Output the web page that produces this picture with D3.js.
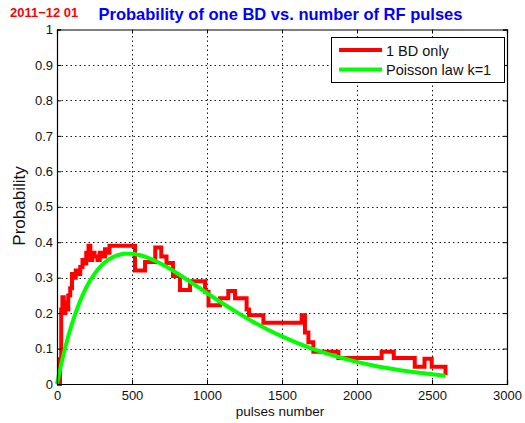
<!DOCTYPE html>
<html>
<head>
<meta charset="utf-8">
<script src="https://cdn.jsdelivr.net/npm/d3@7/dist/d3.min.js"></script>
<style>
  html, body { margin: 0; padding: 0; background: #fff; }
  svg { display: block; font-family: "Liberation Sans", Arial, sans-serif; }
</style>
</head>
<body>
<svg id="chart" width="525" height="423"></svg>
<script>
// Measured breakdown probability: step levels (pulse count where the level starts, probability)
const bdPulses = [0, 20, 28, 36, 45, 55, 65, 75, 88, 100, 115, 125, 140, 155, 170, 185, 195, 210, 222, 235, 250, 270, 285, 300, 320, 335, 350,
  520, 587, 655, 695, 730, 773, 820, 887, 987, 1010, 1087, 1142, 1187, 1264, 1280, 1376, 1631, 1653, 1676, 1709, 1876,
  2164, 2245, 2385, 2450, 2498, 2590];
const bdProb = [0, 0.07, 0.21, 0.245, 0.2, 0.23, 0.21, 0.25, 0.27, 0.31, 0.3, 0.32, 0.31, 0.33, 0.35, 0.34, 0.37, 0.39, 0.35, 0.37, 0.36, 0.35, 0.37, 0.36, 0.38, 0.37, 0.39,
  0.32, 0.344, 0.385, 0.36, 0.341, 0.305, 0.265, 0.29, 0.26, 0.222, 0.242, 0.262, 0.242, 0.21, 0.194, 0.173, 0.194, 0.145, 0.118, 0.091, 0.073,
  0.091, 0.073, 0.049, 0.071, 0.049, 0.025];

// Poisson law k=1 curve
const poissonPulses = [0, 10, 25, 50, 75, 100, 150, 200, 250, 300, 350, 400, 450, 500, 550, 600, 700, 800, 900, 1000,
  1100, 1200, 1300, 1400, 1500, 1600, 1700, 1800, 1900, 2000, 2100, 2200, 2300, 2400, 2500, 2590];
const poissonProb = [0, 0.0206, 0.0499, 0.0947, 0.1348, 0.1705, 0.2302, 0.2764, 0.3109, 0.3359, 0.3527, 0.3628, 0.3673, 0.3674, 0.3637, 0.3572,
  0.3376, 0.3126, 0.2848, 0.2564, 0.2285, 0.2021, 0.1773, 0.1547, 0.1343, 0.1160, 0.0999, 0.0857, 0.0733, 0.0625, 0.0531, 0.0451,
  0.0382, 0.0323, 0.0273, 0.0233];

const xTicks = [0, 500, 1000, 1500, 2000, 2500, 3000];
const yTicks = [0, 0.1, 0.2, 0.3, 0.4, 0.5, 0.6, 0.7, 0.8, 0.9, 1];

const dateLabel = "2011\u221212 01";
const titleText = "Probability of one BD vs. number of RF pulses";
const xLabel = "pulses number";
const yLabel = "Probability";
const legendNames = ["1 BD only", "Poisson law k=1"];
const seriesColors = ["#ff0000", "#00ff00"];

const svg = d3.select("#chart");
const x = d3.scaleLinear().domain([0, 3000]).range([57, 507]);
const y = d3.scaleLinear().domain([0, 1]).range([384, 29.5]);

// grid
const grid = svg.append("g").attr("stroke", "#000").attr("stroke-width", 0.9).attr("stroke-dasharray", "1.5,3");
grid.selectAll("line.gx").data(xTicks.slice(1, -1)).join("line")
  .attr("x1", d => x(d) + 0.5).attr("x2", d => x(d) + 0.5)
  .attr("y1", y(0)).attr("y2", y(1));
grid.selectAll("line.gy").data(yTicks.slice(1, -1)).join("line")
  .attr("x1", x(0)).attr("x2", x(3000))
  .attr("y1", d => Math.round(y(d)) + 0.5).attr("y2", d => Math.round(y(d)) + 0.5);

// data lines
const bdData = bdPulses.map((n, i) => [n, bdProb[i]]);
const poisData = poissonPulses.map((n, i) => [n, poissonProb[i]]);

svg.append("path").datum(bdData)
  .attr("fill", "none").attr("stroke", seriesColors[0]).attr("stroke-width", 4)
  .attr("stroke-linejoin", "miter")
  .attr("d", d3.line().x(d => x(d[0])).y(d => y(d[1])).curve(d3.curveStepAfter));

svg.append("path").datum(poisData)
  .attr("fill", "none").attr("stroke", seriesColors[1]).attr("stroke-width", 4)
  .attr("d", d3.line().x(d => x(d[0])).y(d => y(d[1])).curve(d3.curveMonotoneX));

// axes with inward ticks on all four sides
const tickFmt = d => d3.format("")(d);
const axB = svg.append("g").attr("transform", `translate(0,${y(0)})`)
  .call(d3.axisBottom(x).tickValues(xTicks).tickSize(-4).tickPadding(7).tickFormat(tickFmt));
const axT = svg.append("g").attr("transform", `translate(0,${y(1)})`)
  .call(d3.axisTop(x).tickValues(xTicks).tickSize(-4).tickFormat(""));
const axL = svg.append("g").attr("transform", `translate(${x(0)},0)`)
  .call(d3.axisLeft(y).tickValues(yTicks).tickSize(-4).tickPadding(4).tickFormat(d => d3.format("")(+d.toFixed(1))));
const axR = svg.append("g").attr("transform", `translate(${x(3000)},0)`)
  .call(d3.axisRight(y).tickValues(yTicks).tickSize(-4).tickFormat(""));
[axB, axT, axL, axR].forEach(a => {
  a.select(".domain").attr("stroke", "#000").attr("stroke-width", 1.2);
  a.selectAll(".tick line").attr("stroke", "#000");
  a.selectAll("text").attr("fill", "#111").attr("font-size", 13)
    .attr("font-family", "'Liberation Sans', Arial, sans-serif");
});

// legend
const lg = svg.append("g");
lg.append("rect").attr("x", 331.5).attr("y", 37.5).attr("width", 173).attr("height", 45)
  .attr("fill", "#fff").attr("stroke", "#000").attr("stroke-width", 1);
legendNames.forEach((name, i) => {
  const ly = 50 + i * 19.5;
  lg.append("line").attr("x1", 339).attr("x2", 382).attr("y1", ly).attr("y2", ly)
    .attr("stroke", seriesColors[i]).attr("stroke-width", 4);
  lg.append("text").attr("x", 386).attr("y", ly + 5.5).attr("font-size", 14.5).attr("fill", "#111").text(name);
});

// titles
svg.append("text").attr("x", 10).attr("y", 17).attr("font-size", 13).attr("font-weight", "bold")
  .attr("fill", "#ff0000").text(dateLabel);
svg.append("text").attr("x", 280.5).attr("y", 19.5).attr("text-anchor", "middle")
  .attr("font-size", 16.5).attr("font-weight", "bold").attr("fill", "#0000ff").text(titleText);
svg.append("text").attr("x", 280).attr("y", 416).attr("text-anchor", "middle")
  .attr("font-size", 13.5).attr("fill", "#111").text(xLabel);
svg.append("text").attr("transform", "translate(25,206) rotate(-90)").attr("text-anchor", "middle")
  .attr("font-size", 17).attr("fill", "#111").text(yLabel);
</script>
</body>
</html>
